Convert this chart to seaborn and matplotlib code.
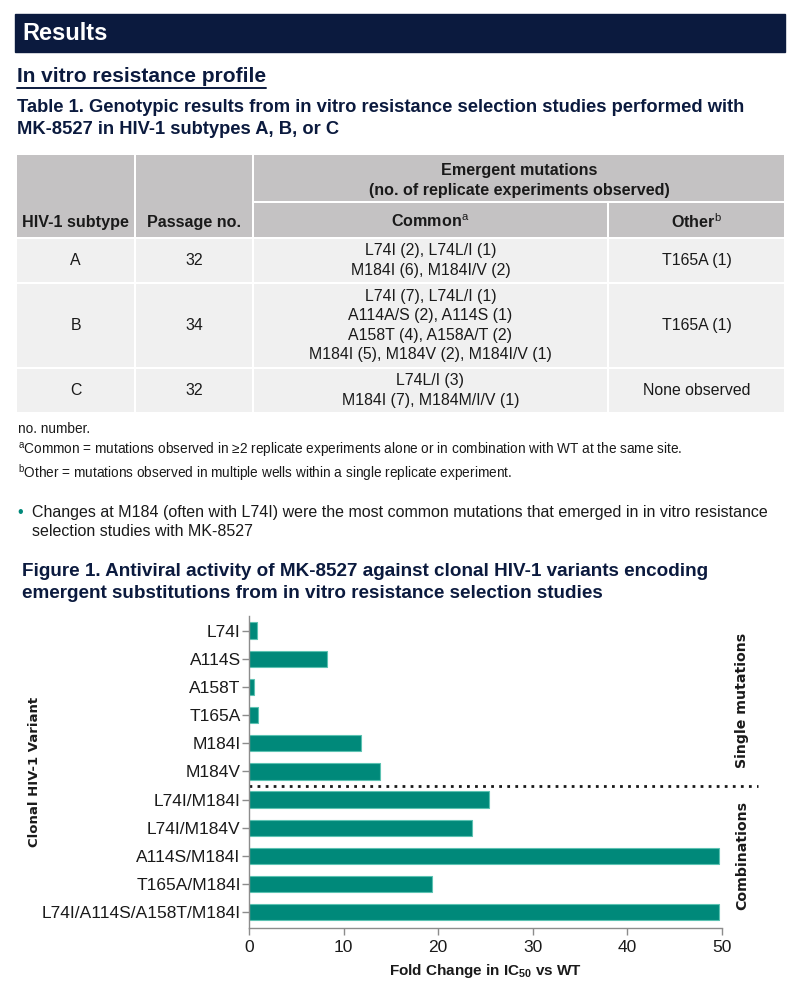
import numpy as np
import matplotlib
matplotlib.use("Agg")
import matplotlib.pyplot as plt
from matplotlib.patches import Rectangle
import seaborn as sns
import pandas as pd

# ---- data ----
variants = ["L74I", "A114S", "A158T", "T165A", "M184I", "M184V",
            "L74I/M184I", "L74I/M184V", "A114S/M184I", "T165A/M184I",
            "L74I/A114S/A158T/M184I"]
fold_change = [0.8, 8.2, 0.5, 1.0, 11.8, 13.8, 25.4, 23.6, 49.7, 19.3, 49.7]
x_ticks = [0, 10, 20, 30, 40, 50]

subtypes = ["A", "B", "C"]
passages = ["32", "34", "32"]
common_muts = [
    ["L74I (2), L74L/I (1)", "M184I (6), M184I/V (2)"],
    ["L74I (7), L74L/I (1)", "A114A/S (2), A114S (1)", "A158T (4), A158A/T (2)",
     "M184I (5), M184V (2), M184I/V (1)"],
    ["L74L/I (3)", "M184I (7), M184M/I/V (1)"],
]
other_muts = ["T165A (1)", "T165A (1)", "None observed"]

footnotes = [
    "no. number.",
    "$^{\\mathrm{a}}$Common = mutations observed in \u22652 replicate experiments alone or in combination with WT at the same site.",
    "$^{\\mathrm{b}}$Other = mutations observed in multiple wells within a single replicate experiment.",
]

NAVY = "#0b1a3e"
TEAL = "#00897a"
HEAD_GRAY = "#c4c2c3"
BODY_GRAY = "#f0f0f0"

sns.set_theme(style="ticks")
plt.rcParams["font.family"] = ["Liberation Sans", "DejaVu Sans"]
plt.rcParams["mathtext.fontset"] = "custom"
plt.rcParams["mathtext.rm"] = "Liberation Sans"
plt.rcParams["mathtext.bf"] = "Liberation Sans:bold"
plt.rcParams["mathtext.it"] = "Liberation Sans:italic"

W, H = 799, 992
fig = plt.figure(figsize=(W / 100, H / 100), dpi=100)
fig.patch.set_facecolor("white")

# background canvas in pixel coordinates
bg = fig.add_axes([0, 0, 1, 1], zorder=0)
bg.set_xlim(0, W)
bg.set_ylim(H, 0)
bg.axis("off")

# section header bar
bg.add_patch(Rectangle((15, 14), 770, 38, color=NAVY))
bg.text(22, 33, "Results", color="white", fontsize=17, fontweight="bold", va="center")

sub = bg.text(17, 77, "In vitro resistance profile", color=NAVY, fontsize=15,
              fontweight="bold", va="center")

bg.text(17, 107, "Table 1. Genotypic results from in vitro resistance selection studies performed with",
        color=NAVY, fontsize=13.2, fontweight="bold", va="center")
bg.text(17, 130, "MK-8527 in HIV-1 subtypes A, B, or C",
        color=NAVY, fontsize=13.2, fontweight="bold", va="center")

# ---- table ----
cols = [(17, 134), (136, 252), (254, 607), (609, 784)]
rows = [(239, 282), (284, 367), (369, 412)]
txt = "#1a1a1a"
fs = 11.4

def cell(x0, x1, y0, y1, c):
    bg.add_patch(Rectangle((x0, y0), x1 - x0, y1 - y0, color=c, lw=0))

cell(cols[0][0], cols[0][1], 155, 237, HEAD_GRAY)
cell(cols[1][0], cols[1][1], 155, 237, HEAD_GRAY)
cell(cols[2][0], cols[3][1], 155, 201, HEAD_GRAY)
cell(cols[2][0], cols[2][1], 203, 237, HEAD_GRAY)
cell(cols[3][0], cols[3][1], 203, 237, HEAD_GRAY)

bg.text(np.mean(cols[0]), 222, "HIV-1 subtype", ha="center", va="center",
        fontsize=11.6, fontweight="bold", color=txt)
bg.text(np.mean(cols[1]), 222, "Passage no.", ha="center", va="center",
        fontsize=11.6, fontweight="bold", color=txt)
bg.text((cols[2][0] + cols[3][1]) / 2, 170, "Emergent mutations",
        ha="center", va="center", fontsize=11.6, fontweight="bold", color=txt)
bg.text((cols[2][0] + cols[3][1]) / 2, 190, "(no. of replicate experiments observed)",
        ha="center", va="center", fontsize=11.6, fontweight="bold", color=txt)
bg.text(np.mean(cols[2]), 222, "Common$^{\\mathrm{a}}$", ha="center", va="center",
        fontsize=11.6, fontweight="bold", color=txt)
bg.text(np.mean(cols[3]), 222, "Other$^{\\mathrm{b}}$", ha="center", va="center",
        fontsize=11.6, fontweight="bold", color=txt)

for (y0, y1), s, p, cm, ot in zip(rows, subtypes, passages, common_muts, other_muts):
    for c0, c1 in cols:
        cell(c0, c1, y0, y1, BODY_GRAY)
    yc = (y0 + y1) / 2
    bg.text(np.mean(cols[0]), yc, s, ha="center", va="center", fontsize=fs, color=txt)
    bg.text(np.mean(cols[1]), yc, p, ha="center", va="center", fontsize=fs, color=txt)
    n = len(cm)
    for k, line in enumerate(cm):
        bg.text(np.mean(cols[2]), yc + (k - (n - 1) / 2) * 19.5, line,
                ha="center", va="center", fontsize=fs, color=txt)
    bg.text(np.mean(cols[3]), yc, ot, ha="center", va="center", fontsize=fs, color=txt)

for k, fn in enumerate(footnotes):
    bg.text(18, 429 + k * 22, fn, fontsize=9.85, color=txt, va="center")

bg.text(17, 512, "\u2022", color=TEAL, fontsize=11.5, va="center")
bg.text(32, 512, "Changes at M184 (often with L74I) were the most common mutations that emerged in in vitro resistance",
        fontsize=11.5, color=txt, va="center")
bg.text(32, 531, "selection studies with MK-8527", fontsize=11.5, color=txt, va="center")

bg.text(22, 572, "Figure 1. Antiviral activity of MK-8527 against clonal HIV-1 variants encoding",
        color=NAVY, fontsize=13.6, fontweight="bold", va="center")
bg.text(22, 594, "emergent substitutions from in vitro resistance selection studies",
        color=NAVY, fontsize=13.6, fontweight="bold", va="center")

# ---- bar chart ----
df = pd.DataFrame({"variant": variants, "fold": fold_change})
ax = fig.add_axes([249 / W, 1 - 928 / H, 473 / W, (928 - 616) / H], zorder=2)
ax.set_facecolor("none")
sns.barplot(data=df, x="fold", y="variant", orient="h", color=TEAL, saturation=1,
            edgecolor="#5cc2b2", linewidth=0.8, width=0.58, ax=ax)
ax.set_xlim(0, 50)
ax.set_ylim(10.56, -0.52)
ax.set_xticks(x_ticks)
ax.tick_params(axis="both", colors="#8c8c8c", length=5, width=1, labelsize=12.5,
               labelcolor="#1a1a1a")
ax.tick_params(axis="y", pad=1)
for side in ["top", "right"]:
    ax.spines[side].set_visible(False)
for side in ["left", "bottom"]:
    ax.spines[side].set_color("#8c8c8c")
    ax.spines[side].set_linewidth(1)
ax.set_ylabel("")
ax.set_xlabel("Fold Change in IC$_{\\mathbf{50}}$ vs WT", fontsize=11, fontweight="bold",
              color="#1a1a1a", labelpad=5)

# separator between single mutations and combinations
ax.plot([0, 53.8], [5.5, 5.5], color="#1a1a1a", lw=2, ls=(0, (1, 1.9)), clip_on=False)

fig.text(35 / W, 1 - 772 / H, "Clonal HIV-1 Variant", rotation=90, ha="center", va="center",
         fontsize=9.5, fontweight="bold", family="DejaVu Sans", color="#1a1a1a")
fig.text(742 / W, 1 - 700 / H, "Single mutations", rotation=90, ha="center", va="center",
         fontsize=10.2, fontweight="bold", family="DejaVu Sans", color="#1a1a1a")
fig.text(742 / W, 1 - 856 / H, "Combinations", rotation=90, ha="center", va="center",
         fontsize=10.2, fontweight="bold", family="DejaVu Sans", color="#1a1a1a")

# underline for the subheading
fig.canvas.draw()
bb = sub.get_window_extent().transformed(bg.transData.inverted())
bg.plot([bb.x0, bb.x1], [bb.y0 + 1, bb.y0 + 1], color=NAVY, lw=1.4)

fig.savefig("out.png", dpi=100)
